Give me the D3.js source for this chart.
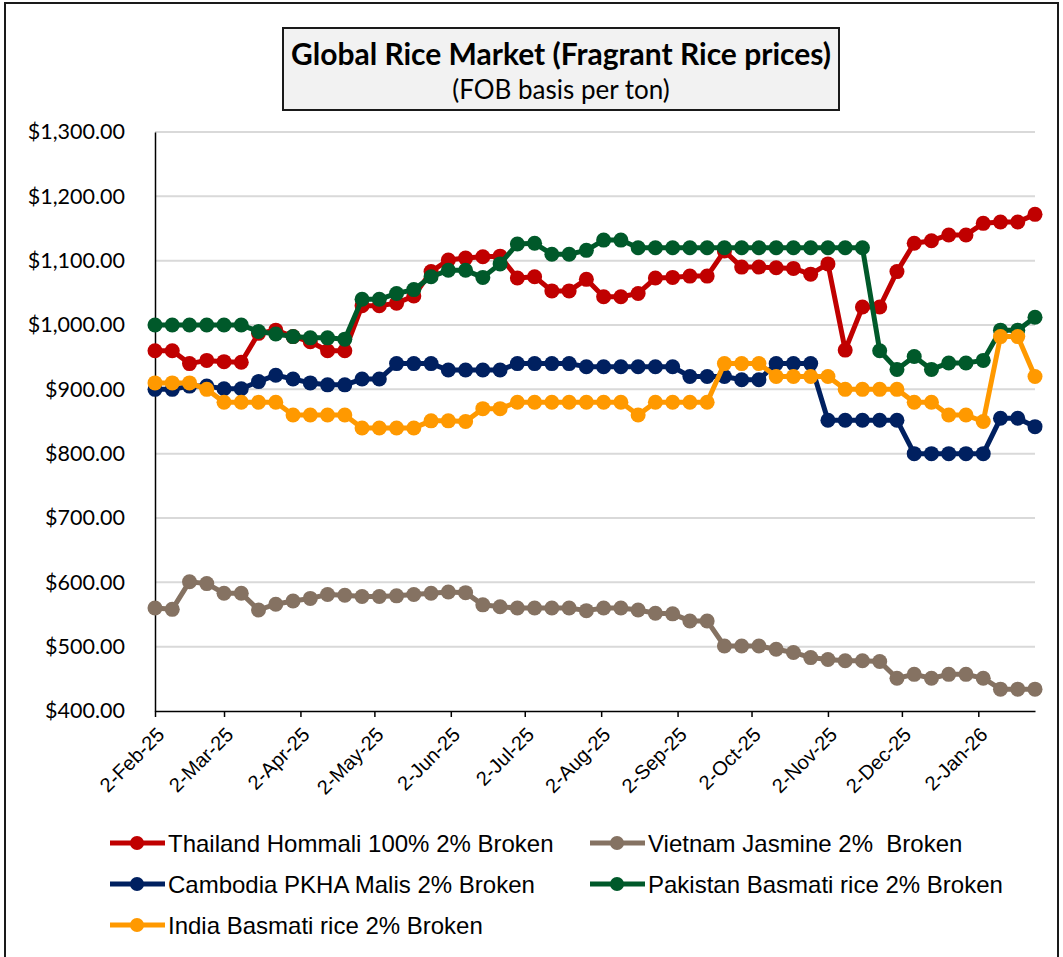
<!DOCTYPE html>
<html>
<head>
<meta charset="utf-8">
<script src="https://cdn.jsdelivr.net/npm/d3@7/dist/d3.min.js"></script>
<style>
  html, body { margin: 0; padding: 0; background: #fff; }
  svg { display: block; }
  text { white-space: pre; }
</style>
</head>
<body>
<svg id="chart" width="1063" height="957"></svg>
<script>
// ---------- DATA ----------
const startDate = "2025-02-02";
const weekCount = 52;
const monthTicks = ["2025-02-02","2025-03-02","2025-04-02","2025-05-02","2025-06-02","2025-07-02","2025-08-02","2025-09-02","2025-10-02","2025-11-02","2025-12-02","2026-01-02"];
const yTicks = [400, 500, 600, 700, 800, 900, 1000, 1100, 1200, 1300];

const seriesNames = [
  "Thailand Hommali 100% 2% Broken",
  "Vietnam Jasmine 2%  Broken",
  "Cambodia PKHA Malis 2% Broken",
  "Pakistan Basmati rice 2% Broken",
  "India Basmati rice 2% Broken"
];
const seriesColors = ["#C00000", "#857262", "#002060", "#00592A", "#FF9900"];

const thailand = [960,960,940,945,943,942,987,992,982,974,960,960,1030,1030,1034,1045,1083,1101,1104,1106,1107,1073,1075,1053,1053,1071,1044,1044,1049,1073,1074,1076,1076,1115,1090,1090,1089,1088,1079,1095,961,1028,1028,1083,1127,1131,1140,1140,1158,1160,1160,1172];
const vietnam = [560,558,601,598,583,583,557,566,571,575,581,580,578,578,579,581,583,585,584,565,562,560,560,560,560,556,560,560,557,552,551,540,540,501,501,501,496,491,483,480,478,478,477,451,457,451,457,457,451,434,434,434];
const cambodia = [900,900,905,905,901,901,912,922,916,910,907,907,916,916,940,940,940,930,930,930,930,940,940,940,940,935,935,935,935,935,935,920,920,920,915,915,940,940,940,852,852,852,852,852,800,800,800,800,800,855,855,842];
const pakistan = [1000,1000,1000,1000,1000,1000,990,986,982,980,980,978,1040,1040,1049,1055,1075,1085,1085,1074,1095,1126,1127,1110,1110,1116,1132,1132,1120,1120,1120,1120,1120,1120,1120,1120,1120,1120,1120,1120,1120,1120,960,931,951,931,941,941,945,992,992,1012];
const india = [910,910,910,900,880,880,880,880,860,860,860,860,840,840,840,840,851,851,850,870,870,880,880,880,880,880,880,880,860,880,880,880,880,940,940,940,920,920,920,920,900,900,900,900,880,880,860,860,850,982,982,920];

const allSeries = [thailand, vietnam, cambodia, pakistan, india];

// ---------- BUILD ----------
const parse = d3.timeParse("%Y-%m-%d");
const t0 = parse(startDate);
const dates = d3.range(weekCount).map(i => d3.timeDay.offset(t0, 7 * i));

const svg = d3.select("#chart");

// outer frame
svg.append("rect").attr("x", 5).attr("y", 3).attr("width", 1053).attr("height", 965)
  .attr("fill", "#fff").attr("stroke", "#1a1a1a").attr("stroke-width", 2);

const plot = { left: 155, right: 1035, top: 132, bottom: 711 };

const x = d3.scaleTime().domain([dates[0], dates[dates.length - 1]]).range([plot.left, plot.right]);
const y = d3.scaleLinear().domain([400, 1300]).range([plot.bottom, plot.top]);

// gridlines
svg.append("g").selectAll("line").data(yTicks.filter(v => v > 400)).join("line")
  .attr("x1", plot.left).attr("x2", plot.right)
  .attr("y1", d => y(d)).attr("y2", d => y(d))
  .attr("stroke", "#d9d9d9").attr("stroke-width", 2);

// y axis
const fmt = d3.format("$,.2f");
const yAxis = svg.append("g").attr("transform", `translate(${plot.left},0)`)
  .call(d3.axisLeft(y).tickValues(yTicks).tickFormat(fmt).tickSize(0).tickPadding(30));
yAxis.select(".domain").attr("stroke", "#000").attr("stroke-width", 1.5);
yAxis.selectAll("text").attr("font-family", "Lato, 'Open Sans', sans-serif")
  .attr("font-size", 21.5).attr("fill", "#000");

// x axis
const xAxis = svg.append("g").attr("transform", `translate(0,${plot.bottom})`)
  .call(d3.axisBottom(x).tickValues(monthTicks.map(parse)).tickFormat(d3.timeFormat("%-d-%b-%y")).tickSize(6).tickSizeOuter(0));
xAxis.select(".domain").attr("stroke", "#000").attr("stroke-width", 1.5);
xAxis.selectAll(".tick line").attr("stroke", "#000").attr("stroke-width", 1.5);
xAxis.selectAll("text")
  .attr("font-family", "'Liberation Sans', Arial, sans-serif")
  .attr("font-size", 20).attr("fill", "#000")
  .attr("text-anchor", "end")
  .attr("x", 0).attr("y", 0).attr("dx", 0).attr("dy", 0)
  .attr("transform", "translate(10,25) rotate(-45)");

// lines
const line = d3.line().x((d, i) => x(dates[i])).y(d => y(d));
allSeries.forEach((s, k) => {
  const g = svg.append("g");
  g.append("path").datum(s).attr("d", line)
    .attr("fill", "none").attr("stroke", seriesColors[k]).attr("stroke-width", 5)
    .attr("stroke-linejoin", "round");
  g.selectAll("circle").data(s).join("circle")
    .attr("cx", (d, i) => x(dates[i])).attr("cy", d => y(d)).attr("r", 7.5)
    .attr("fill", seriesColors[k]);
});

// title box
svg.append("rect").attr("x", 283).attr("y", 28).attr("width", 556).attr("height", 82)
  .attr("fill", "#f2f2f2").attr("stroke", "#1a1a1a").attr("stroke-width", 2);
svg.append("text").attr("x", 561).attr("y", 65).attr("text-anchor", "middle")
  .attr("font-family", "Lato, 'Open Sans', sans-serif").attr("font-weight", "bold")
  .attr("font-size", 30).attr("fill", "#000")
  .text("Global Rice Market (Fragrant Rice prices)");
svg.append("text").attr("x", 561).attr("y", 99).attr("text-anchor", "middle")
  .attr("font-family", "Lato, 'Open Sans', sans-serif")
  .attr("font-size", 26).attr("fill", "#000")
  .text("(FOB basis per ton)");

// legend
const legendPos = [
  { x: 110, y: 843 }, { x: 590, y: 843 },
  { x: 110, y: 884 }, { x: 590, y: 884 },
  { x: 110, y: 925 }
];
seriesNames.forEach((name, k) => {
  const p = legendPos[k];
  const g = svg.append("g").attr("transform", `translate(${p.x},${p.y})`);
  g.append("line").attr("x1", 0).attr("x2", 55).attr("y1", 0).attr("y2", 0)
    .attr("stroke", seriesColors[k]).attr("stroke-width", 5);
  g.append("circle").attr("cx", 27).attr("cy", 0).attr("r", 7).attr("fill", seriesColors[k]);
  g.append("text").attr("x", 58).attr("y", 0).attr("dy", "0.36em")
    .attr("font-family", "'Liberation Sans', Arial, sans-serif")
    .attr("font-size", 24).attr("fill", "#000")
    .text(name);
});
</script>
</body>
</html>
